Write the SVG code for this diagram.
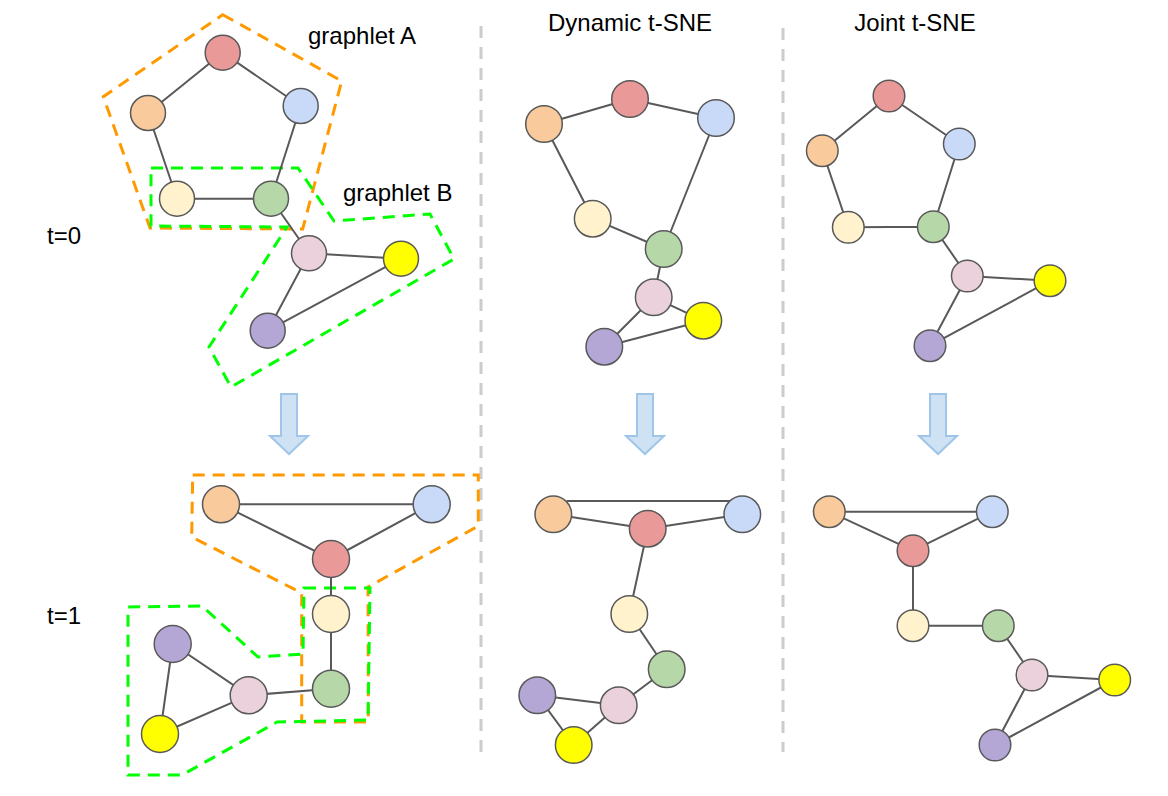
<svg xmlns="http://www.w3.org/2000/svg" width="1168" height="796" viewBox="0 0 1168 796">
<style>
text{font-family:"Liberation Sans",Arial,sans-serif;font-size:24px;fill:#000}
.e{stroke:#595959;stroke-width:2;fill:none}
.n{stroke:#595959;stroke-width:1.5}
.red{fill:#ea9999}.pea{fill:#f9cb9c}.blu{fill:#c9daf8}.cre{fill:#fff2cc}
.grn{fill:#b6d7a8}.pnk{fill:#ead1dc}.yel{fill:#ffff00}.pur{fill:#b4a7d6}
.ho{fill:none;stroke:#ff9900;stroke-width:3;stroke-dasharray:12 8}
.hg{fill:none;stroke:#00ff00;stroke-width:3;stroke-dasharray:12 8}
.div{stroke:#cccccc;stroke-width:3;stroke-dasharray:12 9}
.arr{fill:#cfe2f3;stroke:#9fc5e8;stroke-width:2}
</style>
<rect width="1168" height="796" fill="#fff"/>
<g id="dividers">
<line class="div" x1="481" y1="26" x2="481" y2="752"/>
<line class="div" x1="783" y1="28" x2="783" y2="752"/>
</g>
<g id="labels">
<text x="47" y="244">t=0</text>
<text x="47" y="624">t=1</text>
<text x="308" y="44">graphlet A</text>
<text x="343" y="201">graphlet B</text>
<text x="630" y="31" text-anchor="middle">Dynamic t-SNE</text>
<text x="915" y="31" text-anchor="middle">Joint t-SNE</text>
</g>
<g id="hulls">
<polygon class="ho" points="222.7,14.7 341.7,81 302.7,229 150,228 103.3,96.7"/>
<polygon class="hg" points="151,168 298,168 334,221 430,214 454,259 231,387 209,347 287,227 151,226"/>
<polygon class="ho" points="192.7,475 478.3,475 478.3,526 368,587 368.3,722 301.7,722 301.7,593 191.7,537"/>
<polygon class="hg" points="304,588 370,588 368,720 277,722 182,775 128,775 128,607 202,606 258,657 303,654"/>
</g>
<g id="arrows">
<path class="arr" d="M281,394 H297 V436 H308 L289,454 L270,436 H281 Z"/>
<path class="arr" d="M637,394 H653 V436 H664 L645,454 L626,436 H637 Z"/>
<path class="arr" d="M930,394 H946 V436 H957 L938,454 L919,436 H930 Z"/>
</g>
<g id="connectors">
<!-- top-left -->
<path class="e" d="M222.7,52.7 L148,113 M222.7,52.7 L300.7,106 M148,113 L177,198.7 M300.7,106 L271,198.7 M177,198.7 L271,198.7 M271,198.7 L309,253.3 M309,253.3 L401,258.7 M309,253.3 L267.7,330.7 M267.7,330.7 L401,258.7"/>
<!-- top-middle -->
<path class="e" d="M630,99 L544,124 M630,99 L716,118 M544,124 L592.7,218.7 M716,118 L663.7,249 M592.7,218.7 L663.7,249 M663.7,249 L653.7,297.3 M653.7,297.3 L703.3,320.7 M653.7,297.3 L604.3,346.7 M604.3,346.7 L703.3,320.7"/>
<!-- top-right -->
<path class="e" d="M889,96 L822.3,150.7 M889,96 L959.3,144 M822.3,150.7 L848.3,227.3 M959.3,144 L933.3,226.7 M848.3,227.3 L933.3,226.7 M933.3,226.7 L967.3,276 M967.3,276 L1050,280.7 M967.3,276 L930,345.7 M930,345.7 L1050,280.7"/>
<!-- bottom-left -->
<path class="e" d="M221,504.3 L431.7,504.3 M221,504.3 L331,559 M431.7,504.3 L331,559 M331,559 L331,614 M331,614 L331,688.7 M331,688.7 L248.7,695.3 M248.7,695.3 L172.7,644 M248.7,695.3 L160,734 M172.7,644 L160,734"/>
<!-- bottom-middle -->
<path class="e" d="M566.7,501 L730,501 M553.3,514.3 L647.7,528.7 M647.7,528.7 L742.3,514.3 M647.7,528.7 L629.3,614 M629.3,614 L666.7,669.3 M666.7,669.3 L618.7,705.3 M618.7,705.3 L537.3,695.3 M618.7,705.3 L573.7,745 M537.3,695.3 L573.7,745"/>
<!-- bottom-right -->
<path class="e" d="M829.3,511.7 L992.3,511.7 M829.3,511.7 L913,550.7 M992.3,511.7 L913,550.7 M913,550.7 L913,625.7 M913,625.7 L998.3,625.7 M998.3,625.7 L1032,675 M1032,675 L1114.7,680 M1032,675 L995,745 M995,745 L1114.7,680"/>
</g>
<g id="graph-t0-original">
<circle id="a0-red" class="n red" cx="222.7" cy="52.7" r="17.5"/>
<circle id="a0-peach" class="n pea" cx="148" cy="113" r="17.5"/>
<circle id="a0-blue" class="n blu" cx="300.7" cy="106" r="17.5"/>
<circle id="a0-cream" class="n cre" cx="177" cy="198.7" r="17.5"/>
<circle id="a0-green" class="n grn" cx="271" cy="198.7" r="17.5"/>
<circle id="a0-pink" class="n pnk" cx="309" cy="253.3" r="17.5"/>
<circle id="a0-yellow" class="n yel" cx="401" cy="258.7" r="17.5"/>
<circle id="a0-purple" class="n pur" cx="267.7" cy="330.7" r="17.5"/>
</g>
<g id="graph-t0-dynamic">
<circle id="b0-red" class="n red" cx="630" cy="99" r="18.3"/>
<circle id="b0-peach" class="n pea" cx="544" cy="124" r="18.3"/>
<circle id="b0-blue" class="n blu" cx="716" cy="118" r="18.3"/>
<circle id="b0-cream" class="n cre" cx="592.7" cy="218.7" r="18.3"/>
<circle id="b0-green" class="n grn" cx="663.7" cy="249" r="18.3"/>
<circle id="b0-pink" class="n pnk" cx="653.7" cy="297.3" r="18.3"/>
<circle id="b0-yellow" class="n yel" cx="703.3" cy="320.7" r="18.3"/>
<circle id="b0-purple" class="n pur" cx="604.3" cy="346.7" r="18.3"/>
</g>
<g id="graph-t0-joint">
<circle id="c0-red" class="n red" cx="889" cy="96" r="15.8"/>
<circle id="c0-peach" class="n pea" cx="822.3" cy="150.7" r="15.8"/>
<circle id="c0-blue" class="n blu" cx="959.3" cy="144" r="15.8"/>
<circle id="c0-cream" class="n cre" cx="848.3" cy="227.3" r="15.8"/>
<circle id="c0-green" class="n grn" cx="933.3" cy="226.7" r="15.8"/>
<circle id="c0-pink" class="n pnk" cx="967.3" cy="276" r="15.8"/>
<circle id="c0-yellow" class="n yel" cx="1050" cy="280.7" r="15.8"/>
<circle id="c0-purple" class="n pur" cx="930" cy="345.7" r="15.8"/>
</g>
<g id="graph-t1-original">
<circle id="a1-peach" class="n pea" cx="221" cy="504.3" r="18.5"/>
<circle id="a1-blue" class="n blu" cx="431.7" cy="504.3" r="18.5"/>
<circle id="a1-red" class="n red" cx="331" cy="559" r="18.5"/>
<circle id="a1-cream" class="n cre" cx="331" cy="614" r="18.5"/>
<circle id="a1-green" class="n grn" cx="331" cy="688.7" r="18.5"/>
<circle id="a1-pink" class="n pnk" cx="248.7" cy="695.3" r="18.5"/>
<circle id="a1-purple" class="n pur" cx="172.7" cy="644" r="18.5"/>
<circle id="a1-yellow" class="n yel" cx="160" cy="734" r="18.5"/>
</g>
<g id="graph-t1-dynamic">
<circle id="b1-peach" class="n pea" cx="553.3" cy="514.3" r="18.3"/>
<circle id="b1-blue" class="n blu" cx="742.3" cy="514.3" r="18.3"/>
<circle id="b1-red" class="n red" cx="647.7" cy="528.7" r="18.3"/>
<circle id="b1-cream" class="n cre" cx="629.3" cy="614" r="18.3"/>
<circle id="b1-green" class="n grn" cx="666.7" cy="669.3" r="18.3"/>
<circle id="b1-pink" class="n pnk" cx="618.7" cy="705.3" r="18.3"/>
<circle id="b1-purple" class="n pur" cx="537.3" cy="695.3" r="18.3"/>
<circle id="b1-yellow" class="n yel" cx="573.7" cy="745" r="18.3"/>
</g>
<g id="graph-t1-joint">
<circle id="c1-peach" class="n pea" cx="829.3" cy="511.7" r="15.8"/>
<circle id="c1-blue" class="n blu" cx="992.3" cy="511.7" r="15.8"/>
<circle id="c1-red" class="n red" cx="913" cy="550.7" r="15.8"/>
<circle id="c1-cream" class="n cre" cx="913" cy="625.7" r="15.8"/>
<circle id="c1-green" class="n grn" cx="998.3" cy="625.7" r="15.8"/>
<circle id="c1-pink" class="n pnk" cx="1032" cy="675" r="15.8"/>
<circle id="c1-yellow" class="n yel" cx="1114.7" cy="680" r="15.8"/>
<circle id="c1-purple" class="n pur" cx="995" cy="745" r="15.8"/>
</g>
</svg>
